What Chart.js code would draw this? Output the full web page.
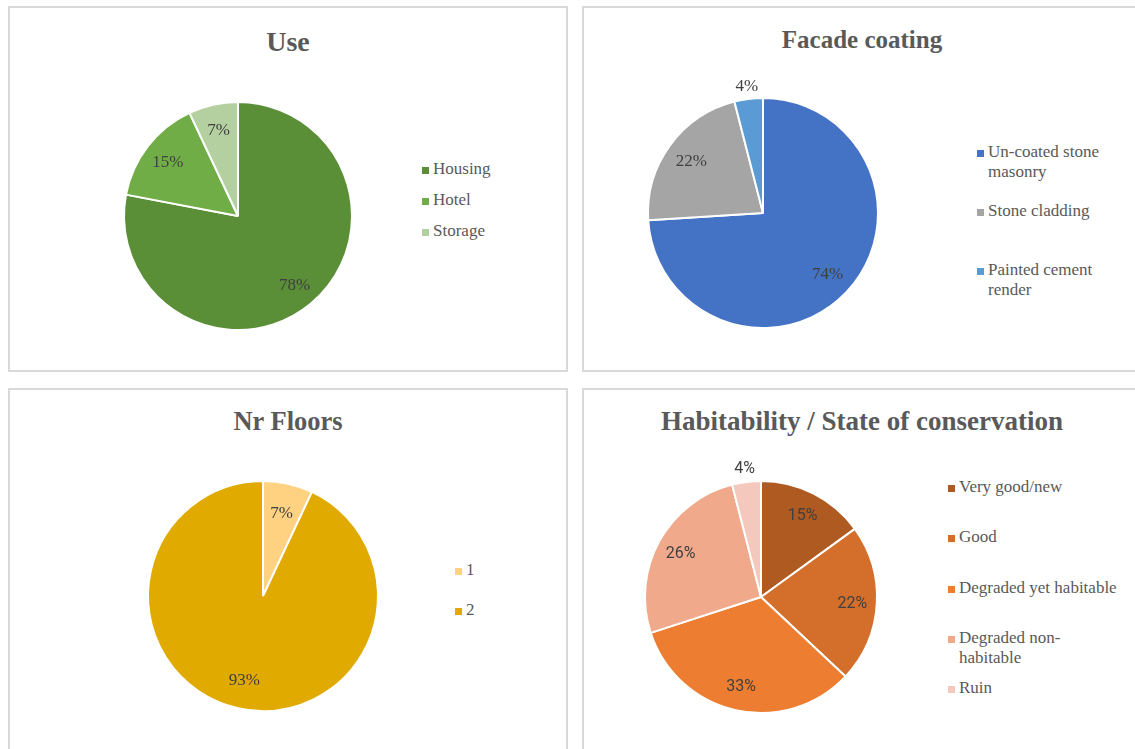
<!DOCTYPE html>
<html>
<head>
<meta charset="utf-8">
<script src="https://cdn.jsdelivr.net/npm/chart.js@4.4.1/dist/chart.umd.min.js"></script>
<style>
  body { margin: 0; width: 1135px; height: 749px; overflow: hidden; background: #fff; position: relative;
         font-family: 'Liberation Serif', 'Times New Roman', serif; }
  .panel { position: absolute; box-sizing: border-box; border: 2px solid #d9d9d9; }
  .title { position: absolute; text-align: center; font-weight: bold; line-height: 30px; color: #595959; white-space: nowrap; }
  .key { position: absolute; font-size: 17px; line-height: 20px; color: #595959; }
  .key i { position: absolute; left: -11px; top: 8px; width: 7px; height: 7px; }
  canvas { position: absolute; }
</style>
</head>
<body>
<script>
// Use
const useLabels = ['Housing', 'Hotel', 'Storage'];
const useValues = [78, 15, 7];
const useColors = ['#5a8f37', '#70ad47', '#b4d0a0'];

// Facade coating
const facadeLabels = ['Un-coated stone masonry', 'Stone cladding', 'Painted cement render'];
const facadeValues = [74, 22, 4];
const facadeColors = ['#4472c4', '#a5a5a5', '#5b9bd5'];

// Nr Floors
const floorLabels = ['1', '2'];
const floorValues = [7, 93];
const floorColors = ['#ffd282', '#e1aa00'];

// Habitability / State of conservation
const stateLabels = ['Very good/new', 'Good', 'Degraded yet habitable', 'Degraded non-habitable', 'Ruin'];
const stateValues = [15, 22, 33, 26, 4];
const stateColors = ['#ae5a21', '#d46f2b', '#ed7d31', '#f0a98a', '#f4c8bc'];

// percentage labels, small slices get theirs outside the pie
const pctLabels = {
  id: 'pctLabels',
  afterDatasetsDraw(chart, args, opts) {
    const ctx = chart.ctx;
    const meta = chart.getDatasetMeta(0);
    const values = chart.data.datasets[0].data;
    ctx.save();
    ctx.font = opts.font;
    ctx.fillStyle = '#404040';
    ctx.textAlign = 'center';
    ctx.textBaseline = 'middle';
    meta.data.forEach((arc, i) => {
      const p = arc.getProps(['x', 'y', 'startAngle', 'endAngle', 'outerRadius'], true);
      const mid = (p.startAngle + p.endAngle) / 2;
      const r = p.outerRadius * (values[i] < 5 ? opts.outside : opts.inside);
      ctx.fillText(values[i] + '%', p.x + Math.cos(mid) * r, p.y + Math.sin(mid) * r + 1);
    });
    ctx.restore();
  }
};

function add(tag, cls, css) {
  const el = document.createElement(tag);
  if (cls) el.className = cls;
  Object.assign(el.style, css);
  document.body.appendChild(el);
  return el;
}

function panel(x, y, w, h) {
  add('div', 'panel', { left: x + 'px', top: y + 'px', width: w + 'px', height: h + 'px' });
}

function title(text, x, w, baseline, size) {
  const t = add('div', 'title', {
    left: x + 'px', width: w + 'px', fontSize: size + 'px',
    top: (baseline - 15 - 0.3375 * size) + 'px'
  });
  t.textContent = text;
}

function legend(labels, colors, x, y0, gap, width) {
  labels.forEach((label, i) => {
    const k = add('div', 'key', { left: x + 'px', top: (y0 + gap * i) + 'px' });
    if (width) k.style.width = width + 'px';
    const sq = document.createElement('i');
    sq.style.background = colors[i];
    k.appendChild(sq);
    k.appendChild(document.createTextNode(label));
  });
}

function pie(cx, cy, r, labels, values, colors, font, inside) {
  const pad = 45;
  const cv = add('canvas', null, { left: (cx - r - pad) + 'px', top: (cy - r - pad) + 'px' });
  cv.width = cv.height = 2 * (r + pad);
  new Chart(cv, {
    type: 'pie',
    data: {
      labels: labels,
      datasets: [{ data: values, backgroundColor: colors, borderColor: '#ffffff', borderWidth: 2 }]
    },
    options: {
      responsive: false,
      animation: false,
      devicePixelRatio: 1,
      radius: r,
      layout: { padding: 0 },
      plugins: {
        legend: { display: false },
        tooltip: { enabled: false },
        pctLabels: { font: font, inside: inside, outside: 1.12 }
      }
    },
    plugins: [pctLabels]
  });
}

const serif = "17px 'Liberation Serif', 'Times New Roman', serif";
const sans = "16px Roboto, 'Liberation Sans', sans-serif";

panel(8, 6, 560, 366);
panel(582, 6, 600, 366);
panel(8, 388, 560, 400);
panel(582, 388, 600, 400);

title('Use', 8, 560, 51, 28);
title('Facade coating', 582, 560, 48, 25);
title('Nr Floors', 8, 560, 430, 26.5);
title('Habitability / State of conservation', 582, 560, 430, 27);

pie(238, 216, 114, useLabels, useValues, useColors, serif, 0.78);
pie(763, 213, 115, facadeLabels, facadeValues, facadeColors, serif, 0.77);
pie(263, 596, 115, floorLabels, floorValues, floorColors, serif, 0.74);
pie(761, 597, 116, stateLabels, stateValues, stateColors, sans, 0.79);

legend(useLabels, useColors, 433, 159, 31);
legend(facadeLabels, facadeColors, 988, 142, 59, 120);
legend(floorLabels, floorColors, 466, 560, 40);
legend(stateLabels, stateColors, 959, 477, 50.3, 161);
</script>
</body>
</html>
